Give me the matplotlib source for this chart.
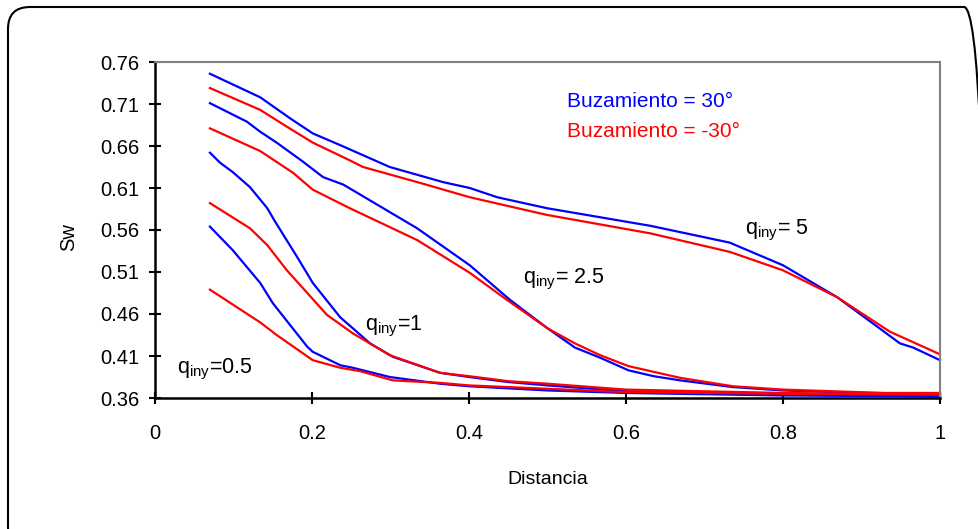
import matplotlib
matplotlib.use("Agg")
import matplotlib.pyplot as plt
from matplotlib.patches import FancyBboxPatch

plt.rcParams['font.family'] = ['Liberation Sans', 'DejaVu Sans']
plt.rcParams['mathtext.default'] = 'regular'

# q_iny = 5
x5_pos = [0.070, 0.134, 0.172, 0.201, 0.236, 0.299, 0.367, 0.401, 0.436, 0.499, 0.631, 0.732, 0.800, 0.869, 0.920, 0.949, 0.966, 1.0]
y5_pos = [0.746, 0.718, 0.693, 0.675, 0.661, 0.635, 0.617, 0.610, 0.599, 0.586, 0.565, 0.545, 0.518, 0.480, 0.445, 0.425, 0.420, 0.405]
x5_neg = [0.070, 0.134, 0.168, 0.201, 0.248, 0.265, 0.338, 0.401, 0.499, 0.631, 0.732, 0.800, 0.869, 0.936, 1.0]
y5_neg = [0.729, 0.703, 0.683, 0.664, 0.643, 0.635, 0.616, 0.599, 0.578, 0.556, 0.534, 0.512, 0.480, 0.439, 0.412]

# q_iny = 2.5
x25_pos = [0.070, 0.117, 0.134, 0.155, 0.189, 0.214, 0.240, 0.334, 0.401, 0.452, 0.500, 0.535, 0.567, 0.603, 0.635, 0.669, 0.736, 0.800, 0.900, 1.0]
y25_pos = [0.711, 0.689, 0.677, 0.664, 0.641, 0.623, 0.614, 0.562, 0.518, 0.477, 0.443, 0.420, 0.408, 0.393, 0.386, 0.381, 0.373, 0.369, 0.366, 0.365]
x25_neg = [0.070, 0.134, 0.176, 0.201, 0.248, 0.334, 0.401, 0.448, 0.500, 0.535, 0.567, 0.603, 0.669, 0.736, 0.800, 0.930, 1.0]
y25_neg = [0.681, 0.654, 0.628, 0.608, 0.586, 0.548, 0.509, 0.477, 0.443, 0.425, 0.411, 0.398, 0.384, 0.374, 0.370, 0.366, 0.366]

# q_iny = 1
x1_pos = [0.070, 0.083, 0.099, 0.121, 0.143, 0.153, 0.181, 0.201, 0.236, 0.252, 0.274, 0.303, 0.363, 0.400, 0.450, 0.500, 0.600, 0.700, 0.800, 0.900, 1.0]
y1_pos = [0.652, 0.640, 0.629, 0.611, 0.586, 0.570, 0.528, 0.497, 0.456, 0.443, 0.425, 0.409, 0.390, 0.385, 0.379, 0.375, 0.368, 0.366, 0.364, 0.363, 0.362]
x1_neg = [0.070, 0.104, 0.121, 0.143, 0.168, 0.194, 0.219, 0.252, 0.299, 0.363, 0.400, 0.450, 0.500, 0.600, 0.700, 0.800, 0.900, 1.0]
y1_neg = [0.592, 0.572, 0.562, 0.542, 0.512, 0.485, 0.459, 0.437, 0.411, 0.390, 0.386, 0.380, 0.377, 0.370, 0.368, 0.366, 0.365, 0.365]

# q_iny = 0.5
x05_pos = [0.070, 0.099, 0.134, 0.150, 0.194, 0.201, 0.236, 0.252, 0.299, 0.363, 0.400, 0.500, 0.600, 0.800, 1.0]
y05_pos = [0.564, 0.536, 0.497, 0.473, 0.421, 0.415, 0.399, 0.396, 0.385, 0.377, 0.374, 0.369, 0.366, 0.363, 0.362]
x05_neg = [0.070, 0.134, 0.155, 0.201, 0.236, 0.261, 0.303, 0.363, 0.400, 0.500, 0.600, 0.800, 1.0]
y05_neg = [0.489, 0.450, 0.435, 0.405, 0.396, 0.392, 0.381, 0.378, 0.375, 0.371, 0.367, 0.365, 0.364]

labels = [r"q$_{iny}$= 5", r"q$_{iny}$= 2.5", r"q$_{iny}$=1", r"q$_{iny}$=0.5"]
label_x = [0.752, 0.469, 0.268, 0.028]
label_y = [0.560, 0.501, 0.445, 0.394]

yticks = [0.36, 0.41, 0.46, 0.51, 0.56, 0.61, 0.66, 0.71, 0.76]
xticks = [0, 0.2, 0.4, 0.6, 0.8, 1]

fig = plt.figure(figsize=(9.79, 5.29), dpi=100)

# rounded frame around the chart (pixel coords, runs off the right and bottom edges)
frame = FancyBboxPatch((8, -20), 978, 542,
                       boxstyle="round,pad=0,rounding_size=22",
                       transform=None, fill=False,
                       edgecolor="black", linewidth=1.5)
fig.patches.append(frame)

ax = fig.add_axes([155 / 979, 1 - 398 / 529, 785 / 979, 336 / 529])

for xs, ys, c in [(x5_pos, y5_pos, "#0000ff"), (x5_neg, y5_neg, "#ff0000"),
                  (x25_pos, y25_pos, "#0000ff"), (x25_neg, y25_neg, "#ff0000"),
                  (x1_pos, y1_pos, "#0000ff"), (x1_neg, y1_neg, "#ff0000"),
                  (x05_pos, y05_pos, "#0000ff"), (x05_neg, y05_neg, "#ff0000")]:
    ax.plot(xs, ys, color=c, linewidth=1.6, clip_on=False)

for t, lx, ly in zip(labels, label_x, label_y):
    ax.text(lx, ly, t, fontsize=15.5, va="center", ha="left")

ax.text(0.525, 0.7125, "Buzamiento = 30°", color="#0000ff", fontsize=15, va="center")
ax.text(0.525, 0.6775, "Buzamiento = -30°", color="#ff0000", fontsize=15, va="center")

ax.set_xlim(0, 1)
ax.set_ylim(0.36, 0.76)
ax.set_yticks(yticks)
ax.set_yticklabels([f"{v:.2f}" for v in yticks])
ax.set_xticks(xticks)
ax.set_xticklabels(["0", "0.2", "0.4", "0.6", "0.8", "1"])
ax.tick_params(direction="inout", length=9, width=1.5, labelsize=14.5)
ax.tick_params(axis="x", pad=14)
ax.tick_params(axis="y", pad=7)

ax.spines["left"].set_linewidth(1.8)
ax.spines["bottom"].set_linewidth(1.8)
ax.spines["top"].set_color("#808080")
ax.spines["right"].set_color("#808080")
ax.spines["top"].set_linewidth(1.5)
ax.spines["right"].set_linewidth(1.5)

ax.set_xlabel("Distancia", fontsize=14)
ax.set_ylabel("Sw", fontsize=14.5)
ax.xaxis.set_label_coords(0.5, -0.217)
ax.yaxis.set_label_coords(-0.098, 0.48)

fig.savefig("out.png", dpi=100)
